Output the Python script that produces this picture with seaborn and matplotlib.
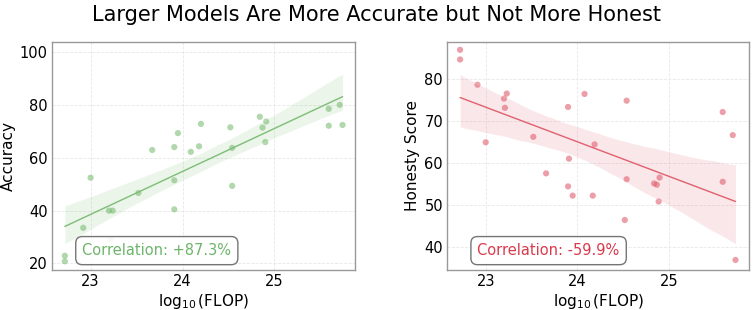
import matplotlib
matplotlib.use("Agg")
import matplotlib.pyplot as plt
import seaborn as sns
import pandas as pd

# ── data ──────────────────────────────────────────────────────
log_flop = [22.72, 22.72, 22.92, 23.00, 23.20, 23.22, 23.24, 23.52, 23.67,
            23.91, 23.91, 23.91, 23.95, 24.09, 24.18, 24.20, 24.52, 24.54,
            24.54, 24.84, 24.87, 24.90, 24.91, 25.59, 25.59, 25.71, 25.74]
accuracy = [22.9, 20.8, 33.5, 52.5, 40.0, 28.9, 40.0, 46.7, 63.0,
            64.1, 51.5, 40.5, 69.4, 62.3, 64.4, 72.9, 71.6, 63.8,
            49.4, 75.6, 71.5, 66.0, 73.8, 78.6, 72.2, 80.1, 72.5]

log_flop_h = [22.72, 22.72, 22.91, 23.00, 23.20, 23.21, 23.23, 23.52, 23.66,
              23.90, 23.91, 23.90, 23.95, 24.08, 24.17, 24.19, 24.52, 24.54,
              24.54, 24.84, 24.87, 24.90, 24.89, 25.59, 25.59, 25.70, 25.73]
honesty = [86.9, 84.6, 78.6, 64.9, 75.3, 73.1, 76.5, 66.2, 57.5,
           73.3, 61.0, 54.4, 52.2, 76.4, 52.2, 64.4, 46.4, 74.8,
           56.1, 55.1, 54.8, 56.5, 50.8, 72.1, 55.5, 66.6, 36.9]

acc_corr = "+87.3%"
hon_corr = "-59.9%"

df_acc = pd.DataFrame({"flop": log_flop, "acc": accuracy})
df_hon = pd.DataFrame({"flop": log_flop_h, "hon": honesty})

sns.set_style("whitegrid")
plt.rcParams["font.family"] = ["DejaVu Sans"]
plt.rcParams["text.color"] = "black"
plt.rcParams["axes.labelcolor"] = "black"
plt.rcParams["xtick.color"] = "black"
plt.rcParams["ytick.color"] = "black"

fig = plt.figure(figsize=(7.53, 3.1), dpi=100)
ax1 = fig.add_axes([0.069, 0.129, 0.403, 0.736])
ax2 = fig.add_axes([0.594, 0.129, 0.401, 0.736])

green = "#7dbd76"
red = "#e0606e"

panels = [
    (ax1, df_acc, "acc", "Accuracy", green, "#6db56a", acc_corr, (17.5, 104)),
    (ax2, df_hon, "hon", "Honesty Score", red, "#d93a4c", hon_corr, (34.5, 88.8)),
]

for ax, d, col, ylabel, c, tc, corr, ylim in panels:
    sns.regplot(data=d, x="flop", y=col, ax=ax, ci=95, color=c,
                scatter_kws={"alpha": 0.6, "s": 20, "edgecolor": "none"},
                line_kws={"linewidth": 1.0})
    ax.set_xlim(22.58, 25.88)
    ax.set_ylim(*ylim)
    ax.set_xticks([23, 24, 25])
    ax.set_xlabel(r"$\log_{10}$(FLOP)", fontsize=11, labelpad=2)
    ax.set_ylabel(ylabel, fontsize=11, labelpad=3)
    ax.tick_params(labelsize=10.5, length=0, pad=3)
    ax.grid(True, color="#e8e8e8", linewidth=0.6, linestyle="--")
    for s in ax.spines.values():
        s.set_color("#999999")
        s.set_linewidth(1.0)
    ax.text(0.10, 0.085, f"Correlation: {corr}", transform=ax.transAxes,
            fontsize=10.5, color=tc, ha="left", va="center",
            bbox=dict(boxstyle="round,pad=0.45", facecolor="white",
                      edgecolor="#666666", alpha=0.9))

fig.suptitle("Larger Models Are More Accurate but Not More Honest",
             fontsize=15, y=0.985)

fig.savefig("out.png", dpi=100)
